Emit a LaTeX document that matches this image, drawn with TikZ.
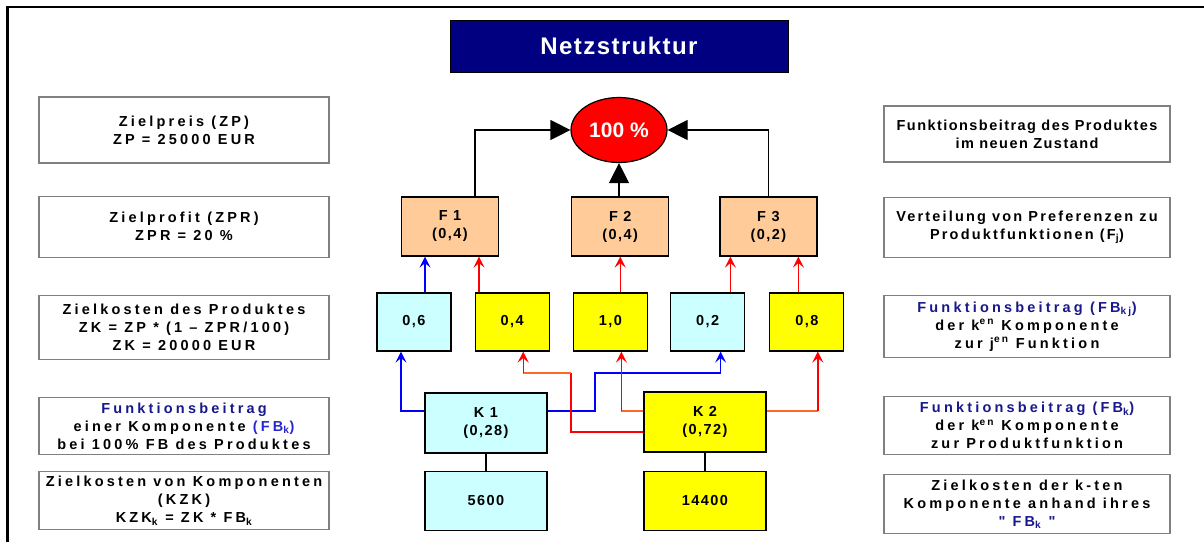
\documentclass[tikz,border=0pt]{standalone}
\usepackage{fontspec}
\setmainfont[Ligatures=TeXOff]{Liberation Sans}
\usetikzlibrary{arrows.meta, positioning, shapes.geometric}

\definecolor{titleblue}{RGB}{0,0,128}
\definecolor{textblue}{RGB}{24,24,140}
\definecolor{fbblue}{RGB}{40,40,210}
\definecolor{funcpeach}{RGB}{255,204,153}
\definecolor{k1cyan}{RGB}{204,255,255}
\definecolor{k2yellow}{RGB}{255,255,0}
\definecolor{linkorange}{RGB}{255,102,40}

\tikzset{
  infobox/.style={rectangle, draw=gray, line width=1.2pt, minimum width=290pt, align=center, inner sep=2pt,
    font=\bfseries\fontsize{14.5}{18}\selectfont\addfontfeature{LetterSpace=#1}},
  infobox/.default=22,
  titlebox/.style={rectangle, draw=black, line width=1pt, fill=titleblue, text=white, minimum width=338pt, minimum height=52pt,
    font=\bfseries\fontsize{24}{28}\selectfont\addfontfeature{LetterSpace=6}},
  cellbox/.style={rectangle, draw=black, line width=1.2pt, align=center, inner sep=2pt,
    font=\bfseries\fontsize{14.5}{18}\selectfont\addfontfeature{LetterSpace=10}},
  funcbox/.style={cellbox, fill=funcpeach, minimum width=97pt, minimum height=59pt},
  sharebox/.style={cellbox, minimum width=74pt, minimum height=58pt},
  compbox/.style={cellbox, minimum width=122pt, minimum height=60pt},
  sumarrow/.style={-{Triangle[length=20pt,width=20pt]}, line width=1.2pt},
  k1arrow/.style={-{Stealth[length=11pt,width=11pt,inset=4.5pt]}, blue, line width=1.4pt},
  k2arrow/.style={-{Stealth[length=11pt,width=11pt,inset=4.5pt]}, red, line width=1.4pt},
  k2line/.style={linkorange, line width=1.4pt},
}

\begin{document}
\begin{tikzpicture}[x=1pt, y=-1pt]
\useasboundingbox (0,0) rectangle (1204,542);
% frame, only top and left edge
\draw[line width=2.5pt] (1204,7) -- (7.5,7) -- (7.5,542);

\node[titlebox] (title) at (619,46) {Netzstruktur};
\node[ellipse, draw=black, line width=1.2pt, fill=red, text=white, inner sep=0pt, minimum width=96pt, minimum height=65pt,
  font=\bfseries\fontsize{21}{24}\selectfont] (total) at (619,130) {100 \%};

% left column
\node[infobox, minimum height=66pt] (zp) at (184,130) {Zielpreis (ZP)\\ZP = 25000 EUR};
\node[infobox, minimum height=61pt, below=32pt of zp] (zpr) {Zielprofit (ZPR)\\ZPR = 20 \%};
\node[infobox, minimum height=64pt, below=37pt of zpr] (zk) {Zielkosten des Produktes\\ZK = ZP * (1 – ZPR/100)\\ZK = 20000 EUR};
\node[infobox, minimum height=57pt, below=37pt of zk] (fbk) {\textcolor{textblue}{Funktionsbeitrag}\\einer Komponente \textcolor{fbblue}{(FB\textsubscript{k})}\\bei 100\% FB des Produktes};
\node[infobox, minimum height=58pt, below=16pt of fbk] (kzk) {Zielkosten von Komponenten\\(KZK)\\KZK\textsubscript{k} = ZK * FB\textsubscript{k}};

% right column
\node[infobox=10, minimum width=286pt, minimum height=56pt] (fbprod) at (1027,134) {Funktionsbeitrag des Produktes\\im neuen Zustand};
\node[infobox=15, minimum width=286pt, minimum height=60pt, below=34pt of fbprod] (pref) {Verteilung von Preferenzen zu\\Produktfunktionen (F\textsubscript{j})};
\node[infobox, minimum width=286pt, minimum height=62pt, below=37pt of pref] (fbkj) {\textcolor{textblue}{Funktionsbeitrag (FB\textsubscript{kj})}\\der k\textsuperscript{en} Komponente\\zur j\textsuperscript{en} Funktion};
\node[infobox, minimum width=286pt, minimum height=58pt, below=38pt of fbkj] (fbkp) {\textcolor{textblue}{Funktionsbeitrag (FB\textsubscript{k})}\\der k\textsuperscript{en} Komponente\\zur Produktfunktion};
\node[infobox, minimum width=286pt, minimum height=59pt, below=19pt of fbkp] (kzkk) {Zielkosten der k-ten\\Komponente anhand ihres\\\textcolor{textblue}{" FB\textsubscript{k} "}};

% functions
\node[funcbox] (f1) at (450,226.5) {F 1\\(0,4)};
\node[funcbox, right=72pt of f1] (f2) {F 2\\(0,4)};
\node[funcbox, right=50pt of f2] (f3) {F 3\\(0,2)};

% shares of the components per function
\node[sharebox, fill=k1cyan] (s11) at (414,322) {0,6};
\node[sharebox, fill=k2yellow, right=23pt of s11] (s21) {0,4};
\node[sharebox, fill=k2yellow, right=23pt of s21] (s22) {1,0};
\node[sharebox, fill=k1cyan, right=22pt of s22] (s13) {0,2};
\node[sharebox, fill=k2yellow, right=24pt of s13] (s23) {0,8};

% components and their target costs
\node[compbox, fill=k1cyan] (k1) at (486,423) {K 1\\(0,28)};
\node[compbox, fill=k2yellow] (k2) at (705,422) {K 2\\(0,72)};
\node[compbox, fill=k1cyan, minimum height=59pt, below=17pt of k1] (kz1) {5600};
\node[compbox, fill=k2yellow, minimum height=59pt, below=18pt of k2] (kz2) {14400};

\coordinate (s11in) at ([xshift=-13pt]s11.south);
\coordinate (s21in) at ([xshift=11pt]s21.south);
\coordinate (s22in) at ([xshift=11pt]s22.south);
\coordinate (s13in) at ([xshift=13pt]s13.south);
\coordinate (s23in) at ([xshift=11pt]s23.south);
\coordinate (k2nw) at ([yshift=11pt]k2.west);
\coordinate (k2sw) at ([yshift=-10pt]k2.west);
\coordinate (k2ne) at ([yshift=11pt]k2.east);
\coordinate (k1bend) at (595,373);
\coordinate (k2bend) at (571,373);

% functions add up to the product
\draw[sumarrow] ([xshift=25pt]f1.north) |- (total.west);
\draw[sumarrow] (f2.north -| total.south) -- (total.south);
\draw[sumarrow] (f3.north) |- (total.east);

% shares into functions
\draw[k1arrow] ([xshift=-25pt]f1.south |- s11.north) -- ([xshift=-25pt]f1.south);
\draw[k2arrow] ([xshift=29pt]f1.south |- s21.north) -- ([xshift=29pt]f1.south);
\draw[k2arrow] (s22.north -| f2.south) -- (f2.south);
\draw[k2arrow] ([xshift=-38pt]f3.south |- s13.north) -- ([xshift=-38pt]f3.south);
\draw[k2arrow] ([xshift=30pt]f3.south |- s23.north) -- ([xshift=30pt]f3.south);

% K 1
\draw[k1arrow] ([yshift=12pt]k1.west) -| (s11in);
\draw[k1arrow] ([yshift=12pt]k1.east) -| (k1bend) -| (s13in);

% K 2
\draw[red, line width=1.4pt] (k2sw) -| (k2bend);
\draw[k2line] (k2bend) -- (k2bend -| s21in) edge[k2arrow] (s21in);
\draw[k2line] (k2nw) -- (k2nw -| s22in) edge[k2arrow] (s22in);
\draw[k2line] (k2ne) -- (k2ne -| s23in) edge[k2arrow] (s23in);

\draw[line width=1.2pt] (k1) -- (kz1);
\draw[line width=1.2pt] (k2) -- (kz2);
\end{tikzpicture}
\end{document}
